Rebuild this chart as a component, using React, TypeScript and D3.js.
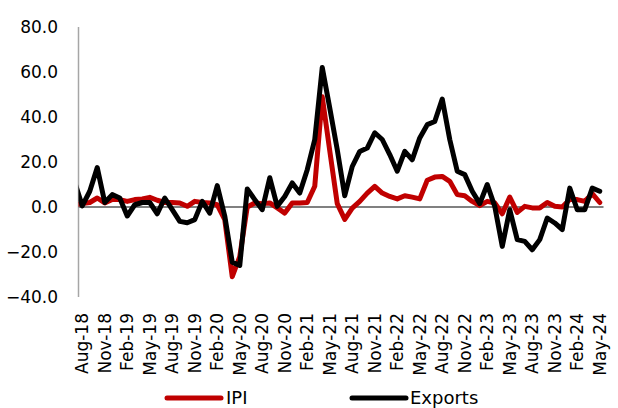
import React from "react";
import * as d3 from "d3";

// Months from Jul-18 (partly outside the axis range, clipped) to May-24
const months: Date[] = d3.timeMonth.range(new Date(2018, 6, 1), new Date(2024, 5, 1));

const tickLabels = [
  "Aug-18", "Nov-18", "Feb-19", "May-19", "Aug-19", "Nov-19", "Feb-20", "May-20",
  "Aug-20", "Nov-20", "Feb-21", "May-21", "Aug-21", "Nov-21", "Feb-22", "May-22",
  "Aug-22", "Nov-22", "Feb-23", "May-23", "Aug-23", "Nov-23", "Feb-24", "May-24",
];

const yTicks = [80, 60, 40, 20, 0, -20, -40];

const ipi = [
  1.0,
  1.5, 2.0, 4.0, 1.8, 3.3, 3.3, 2.5, 3.3, 3.6, 4.3, 3.0, 2.0,
  2.0, 1.8, 0.3, 2.5, 2.0, 1.8, 1.0, -5.6, -31.0, -22.0, 0.0, 1.8,
  1.5, 1.8, -0.4, -2.7, 1.8, 1.8, 2.0, 9.2, 49.0, 25.0, 1.5, -5.5,
  -0.5, 2.5, 6.2, 9.2, 6.2, 4.7, 3.6, 5.0, 4.4, 3.6, 11.9, 13.3,
  13.6, 11.4, 5.5, 5.0, 2.5, 0.6, 2.5, 1.8, -3.0, 4.4, -2.4, 0.3,
  -0.4, -0.4, 2.0, 0.3, 0.0, 3.3, 3.3, 2.5, 5.9, 2.0,
];

const exportsG = [
  11.0,
  0.5, 7.0, 17.5, 2.0, 5.5, 4.0, -4.0, 1.0, 2.0, 2.0, -3.0, 4.0,
  -1.2, -6.4, -7.0, -5.6, 2.5, -2.7, 9.5, -4.0, -24.5, -26.0, 8.0, 3.3,
  -1.2, 13.0, 0.3, 4.7, 10.7, 6.2, 16.6, 30.0, 62.0, 44.0, 25.5, 5.0,
  18.0, 24.7, 26.2, 33.0, 30.0, 23.3, 15.9, 24.7, 21.0, 30.7, 36.6, 38.0,
  48.0, 30.0, 15.9, 14.4, 7.0, 1.5, 10.0, 0.3, -17.5, -1.2, -14.5, -15.3,
  -19.0, -14.5, -4.9, -7.1, -10.0, 8.4, -1.2, -1.2, 8.4, 7.0,
];

const series = [
  { name: "IPI", values: ipi, color: "#C00000" },
  { name: "Exports", values: exportsG, color: "#000000" },
];

const W = 618;
const H = 408;
const plotLeft = 78.5;
const plotRight = 603.5;
const plotTop = 27;
const plotBottom = 297;
const FONT = "'DejaVu Sans', Verdana, sans-serif";

export default function App() {
  const n = months.length - 1; // number of visible categories (Aug-18..May-24)
  const x = d3.scaleLinear().domain([-0.5, n - 0.5]).range([plotLeft, plotRight]);
  const y = d3.scaleLinear().domain([-40, 80]).range([plotBottom, plotTop]);
  const fmtLabel = d3.timeFormat("%b-%y");

  const line = d3
    .line<number>()
    .x((_, i) => x(i - 1))
    .y((d) => y(d));

  const labelIdx = months
    .map((m, k) => ({ label: fmtLabel(m), idx: k - 1 }))
    .filter((d) => tickLabels.includes(d.label) && d.idx >= 0);

  return (
    <svg
      width={W}
      height={H}
      style={{ position: "absolute", left: 0, top: 0, background: "#fff" }}
    >
      <defs>
        <clipPath id="plotClip">
          <rect x={plotLeft} y={0} width={plotRight - plotLeft} height={H} />
        </clipPath>
      </defs>

      {/* y axis line */}
      <line x1={plotLeft} x2={plotLeft} y1={plotTop} y2={plotBottom} stroke="#A6A6A6" strokeWidth={1.5} />
      {/* zero line (category axis) */}
      <line x1={plotLeft} x2={plotRight} y1={y(0)} y2={y(0)} stroke="#808080" strokeWidth={2} />

      {/* y tick labels */}
      {yTicks.map((t) => (
        <text
          key={t}
          x={58}
          y={y(t)}
          dy="0.36em"
          textAnchor="end"
          fontFamily={FONT}
          fontSize={17}
          fill="#000"
        >
          {d3.format(".1f")(t)}
        </text>
      ))}

      {/* x tick labels */}
      {labelIdx.map((d) => (
        <text
          key={d.label}
          transform={`translate(${x(d.idx)},313) rotate(-90)`}
          dy="0.36em"
          textAnchor="end"
          fontFamily={FONT}
          fontSize={17}
          fill="#000"
        >
          {d.label}
        </text>
      ))}

      {/* series */}
      <g clipPath="url(#plotClip)">
        {series.map((s) => (
          <path
            key={s.name}
            d={line(s.values) || ""}
            fill="none"
            stroke={s.color}
            strokeWidth={5}
            strokeLinejoin="round"
            strokeLinecap="round"
          />
        ))}
      </g>

      {/* legend */}
      <g fontFamily={FONT} fontSize={18}>
        <line x1={167} x2={221} y1={398} y2={398} stroke="#C00000" strokeWidth={5} strokeLinecap="round" />
        <text x={226} y={404} fill="#000">IPI</text>
        <line x1={352} x2={406} y1={398} y2={398} stroke="#000" strokeWidth={5} strokeLinecap="round" />
        <text x={410} y={404} fill="#000">Exports</text>
      </g>
    </svg>
  );
}
